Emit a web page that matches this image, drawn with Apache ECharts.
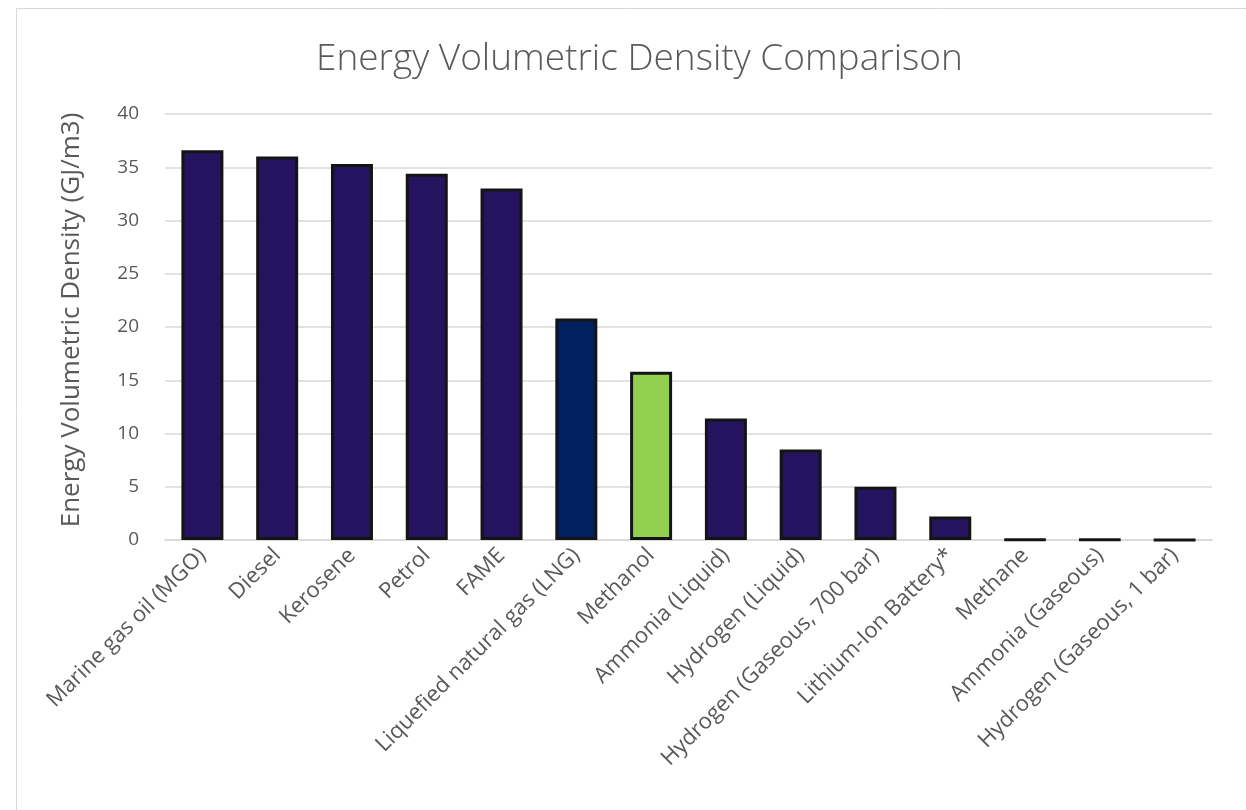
<!DOCTYPE html>
<html>
<head>
<meta charset="utf-8">
<script src="https://cdn.jsdelivr.net/npm/echarts@6/dist/echarts.min.js"></script>
<style>
  html, body { margin: 0; padding: 0; background: #ffffff; }
  #chart { width: 1246px; height: 810px; }
</style>
</head>
<body>
<div id="chart"></div>
<script>
// Fuel names along the x axis
const categories = [
  'Marine gas oil (MGO)', 'Diesel', 'Kerosene', 'Petrol', 'FAME',
  'Liquefied natural gas (LNG)', 'Methanol', 'Ammonia (Liquid)',
  'Hydrogen (Liquid)', 'Hydrogen (Gaseous, 700 bar)', 'Lithium-Ion Battery*',
  'Methane', 'Ammonia (Gaseous)', 'Hydrogen (Gaseous, 1 bar)'
];
// Volumetric energy density, GJ/m3
const densities = [36.6, 36.0, 35.3, 34.4, 33.0, 20.8, 15.8, 11.4, 8.5, 5.0, 2.2, 0.04, 0.03, 0.01];
// Fill per bar
const fills = ['#24145f', '#24145f', '#24145f', '#24145f', '#24145f', '#002060', '#92d050',
  '#24145f', '#24145f', '#24145f', '#24145f', '#24145f', '#24145f', '#24145f'];
// Y axis ticks
const yMin = 0, yMax = 40, yStep = 5;

const chart = echarts.init(document.getElementById('chart'), null, { renderer: 'canvas' });
const font = '"Open Sans", "Noto Sans", sans-serif';
const textColor = '#595959';

chart.setOption({
  animation: false,
  backgroundColor: '#ffffff',
  graphic: [{
    type: 'rect',
    shape: { x: 16.5, y: 8.5, width: 1260, height: 840 },
    style: { fill: 'none', stroke: '#d9d9d9', lineWidth: 1 },
    silent: true
  }],
  title: {
    text: 'Energy Volumetric Density Comparison',
    left: 311,
    top: 36,
    textStyle: { fontFamily: font, fontWeight: 300, fontSize: 37, color: textColor }
  },
  grid: { left: 165, right: 34, top: 114, bottom: 270, containLabel: false },
  xAxis: {
    type: 'category',
    data: categories,
    axisTick: { show: false },
    axisLine: { lineStyle: { color: '#d9d9d9', width: 1.5 } },
    axisLabel: {
      rotate: 45, interval: 0, margin: 12,
      fontFamily: font, fontSize: 22, color: textColor
    }
  },
  yAxis: {
    type: 'value',
    min: yMin, max: yMax, interval: yStep,
    name: 'Energy Volumetric Density (GJ/m3)',
    nameLocation: 'middle',
    nameGap: 80,
    nameTextStyle: { fontFamily: font, fontSize: 26, color: textColor, padding: [0, 0, 0, 14] },
    axisLine: { show: false },
    axisTick: { show: false },
    axisLabel: { margin: 26, fontFamily: font, fontSize: 19, color: textColor },
    splitLine: { lineStyle: { color: '#d9d9d9', width: 1.5 } }
  },
  series: [{
    type: 'bar',
    barWidth: 42,
    data: densities.map((v, i) => ({
      value: v,
      itemStyle: { color: fills[i] }
    })),
    itemStyle: { borderColor: '#141414', borderWidth: 3 }
  }]
});
</script>
</body>
</html>
